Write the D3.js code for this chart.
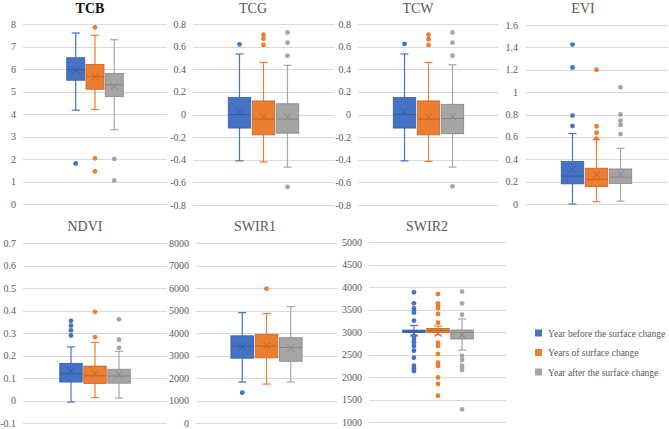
<!DOCTYPE html>
<html lang="en">
<head>
<meta charset="UTF-8">
<title>Surface change box plots</title>
<script src="https://d3js.org/d3.v7.min.js"></script>
<style>
  svg text { font-family: "Liberation Serif", "Times New Roman", serif; }
</style>
</head>
<body style="margin:0; background:#fff;">
<svg id="chart" width="669" height="429"></svg>
<script>
// series and colours
const series = ["Year before the surface change", "Years of surface change", "Year after the surface change"];
const colors = ["#4472C4", "#ED7D31", "#A5A5A5"];

// box stats per series: [min whisker, q1, median, q3, max whisker, mean]
const tcbBox = [[4.17, 5.5, 5.97, 6.5, 7.6, 5.94], [4.2, 5.1, 5.67, 6.2, 7.5, 5.65], [3.3, 4.77, 5.3, 5.8, 7.3, 5.24]];
const tcbOut = [[1.8], [7.85, 2.03, 1.45], [2.0, 1.05]];

const tcgBox = [[-0.41, -0.12, 0.0, 0.15, 0.535, 0.025], [-0.42, -0.18, -0.04, 0.12, 0.46, -0.02], [-0.465, -0.165, -0.04, 0.095, 0.435, -0.02]];
const tcgOut = [[0.62], [0.705, 0.67, 0.615], [0.725, 0.635, 0.52, -0.64]];

const tcwBox = [[-0.41, -0.12, 0.0, 0.15, 0.535, 0.025], [-0.415, -0.18, -0.04, 0.12, 0.46, -0.02], [-0.465, -0.17, -0.035, 0.09, 0.44, -0.02]];
const tcwOut = [[0.625], [0.705, 0.665, 0.615], [0.725, 0.635, 0.52, -0.635]];

const eviBox = [[0.0, 0.18, 0.25, 0.38, 0.63, 0.31], [0.02, 0.155, 0.22, 0.32, 0.575, 0.262], [0.025, 0.183, 0.24, 0.313, 0.497, 0.267]];
const eviOut = [[1.425, 1.22, 0.79, 0.697], [1.2, 0.695, 0.637, 0.585], [1.043, 0.8, 0.745, 0.707, 0.625]];

const ndviBox = [[-0.007, 0.082, 0.119, 0.165, 0.238, 0.131], [0.013, 0.076, 0.11, 0.153, 0.258, 0.119], [0.011, 0.077, 0.109, 0.139, 0.219, 0.116]];
const ndviOut = [[0.354, 0.333, 0.312, 0.289], [0.394, 0.282], [0.361, 0.27, 0.234]];

const swir1Box = [[1820, 2880, 3410, 3875, 4905, 3390], [1730, 2895, 3420, 3940, 4865, 3440], [1820, 2745, 3355, 3790, 5170, 3330]];
const swir1Out = [[1350], [5970], []];

const swir2Box = [[2930, 2988, 3015, 3042, 3145, 2970], [2933, 2985, 3035, 3080, 3133, 2970], [2600, 2844, 2990, 3044, 3290, 2935]];
const swir2Out = [
  [3881, 3637, 3526, 3474, 3430, 3252, 2881, 2822, 2770, 2689, 2585, 2430, 2252, 2193, 2133],
  [3844, 3637, 3578, 3526, 3400, 3207, 2763, 2689, 2511, 2319, 2244, 1990, 1844, 1585],
  [3896, 3637, 3385, 2467, 2378, 2252, 2200, 2156, 1281]
];

// panel layout: name, data, y domain, tick step, plot box, title position
const panels = [
  { name: "TCB", box: tcbBox, out: tcbOut, dom: [0, 8], step: 1, x0: 23, x1: 167, y0: 24, y1: 204, pad: 2.27, tx: 90, ty: 13, strong: true },
  { name: "TCG", box: tcgBox, out: tcgOut, dom: [-0.8, 0.8], step: 0.2, x0: 193, x1: 334, y0: 24, y1: 205, pad: 1.47, tx: 253, ty: 13 },
  { name: "TCW", box: tcwBox, out: tcwOut, dom: [-0.8, 0.8], step: 0.2, x0: 358, x1: 499, y0: 24, y1: 205, pad: 1.47, tx: 418, ty: 13 },
  { name: "EVI", box: eviBox, out: eviOut, dom: [0, 1.6], step: 0.2, x0: 525, x1: 668, y0: 25, y1: 204, pad: 1.51, tx: 583, ty: 13 },
  { name: "NDVI", box: ndviBox, out: ndviOut, dom: [-0.1, 0.7], step: 0.1, x0: 23, x1: 167, y0: 243, y1: 423, pad: 1.53, tx: 85, ty: 231 },
  { name: "SWIR1", box: swir1Box, out: swir1Out, dom: [0, 8000], step: 1000, x0: 196, x1: 337, y0: 243, y1: 423, pad: 1.44, tx: 255, ty: 231 },
  { name: "SWIR2", box: swir2Box, out: swir2Out, dom: [1000, 5000], step: 500, x0: 369, x1: 507, y0: 242, y1: 422, pad: 1.4, tx: 427, ty: 231 }
];

const svg = d3.select("#chart");

panels.forEach(p => {
  const g = svg.append("g");
  const y = d3.scaleLinear().domain(p.dom).range([p.y1, p.y0]);
  const x = d3.scaleBand().domain(series).range([p.x0, p.x1]).paddingInner(0.065).paddingOuter(p.pad);
  const bw = x.bandwidth();

  // gridlines + tick labels
  const ticks = d3.range(p.dom[0], p.dom[1] + p.step / 2, p.step).map(v => +v.toFixed(6));
  g.selectAll(".grid").data(ticks).enter().append("line")
    .attr("x1", p.x0).attr("x2", p.x1)
    .attr("y1", d => Math.round(y(d)) + 0.5).attr("y2", d => Math.round(y(d)) + 0.5)
    .attr("stroke", "#d9d9d9").attr("stroke-width", 1);
  g.selectAll(".tl").data(ticks).enter().append("text")
    .attr("x", p.x0 - 7).attr("y", d => y(d) + 3.5)
    .attr("text-anchor", "end")
    .attr("font-size", 10).attr("fill", "#595959")
    .text(d => d);

  // title
  g.append("text")
    .attr("x", p.tx).attr("y", p.ty)
    .attr("text-anchor", "middle")
    .attr("font-size", 14)
    .attr("font-weight", p.strong ? "bold" : "normal")
    .attr("fill", p.strong ? "#111" : "#595959")
    .text(p.name);

  series.forEach((s, i) => {
    const [mn, q1, md, q3, mx, mean] = p.box[i];
    const c = colors[i];
    const dk = d3.color(c).darker(0.6).formatHex();
    const cx = x(s) + bw / 2;
    const cap = 4;

    // whiskers
    g.append("line").attr("x1", cx).attr("x2", cx).attr("y1", y(mx)).attr("y2", y(q3)).attr("stroke", c).attr("stroke-width", 1.2);
    g.append("line").attr("x1", cx).attr("x2", cx).attr("y1", y(q1)).attr("y2", y(mn)).attr("stroke", c).attr("stroke-width", 1.2);
    [mx, mn].forEach(v => {
      g.append("line").attr("x1", cx - cap).attr("x2", cx + cap).attr("y1", y(v)).attr("y2", y(v)).attr("stroke", c).attr("stroke-width", 1.2);
    });

    // box
    g.append("rect")
      .attr("x", x(s)).attr("y", y(q3))
      .attr("width", bw).attr("height", Math.max(1, y(q1) - y(q3)))
      .attr("fill", c).attr("stroke", dk).attr("stroke-width", 0.8);
    g.append("line").attr("x1", x(s)).attr("x2", x(s) + bw).attr("y1", y(md)).attr("y2", y(md)).attr("stroke", dk).attr("stroke-width", 1);

    // mean marker
    const m = 3.5, my = y(mean);
    g.append("path")
      .attr("d", `M${cx - m},${my - m}L${cx + m},${my + m}M${cx - m},${my + m}L${cx + m},${my - m}`)
      .attr("stroke", dk).attr("stroke-width", 1).attr("fill", "none");

    // outliers
    g.selectAll(null).data(p.out[i]).enter().append("circle")
      .attr("cx", cx).attr("cy", d => y(d)).attr("r", 2.4).attr("fill", c);
  });
});

// legend
const legend = svg.append("g");
series.forEach((s, i) => {
  const ly = 333 + i * 19.5;
  legend.append("rect").attr("x", 535).attr("y", ly - 3.5).attr("width", 7).attr("height", 7).attr("fill", colors[i]);
  legend.append("text").attr("x", 548).attr("y", ly + 3.5)
    .attr("font-size", 9.5).attr("fill", "#595959").text(s);
});
</script>
</body>
</html>
